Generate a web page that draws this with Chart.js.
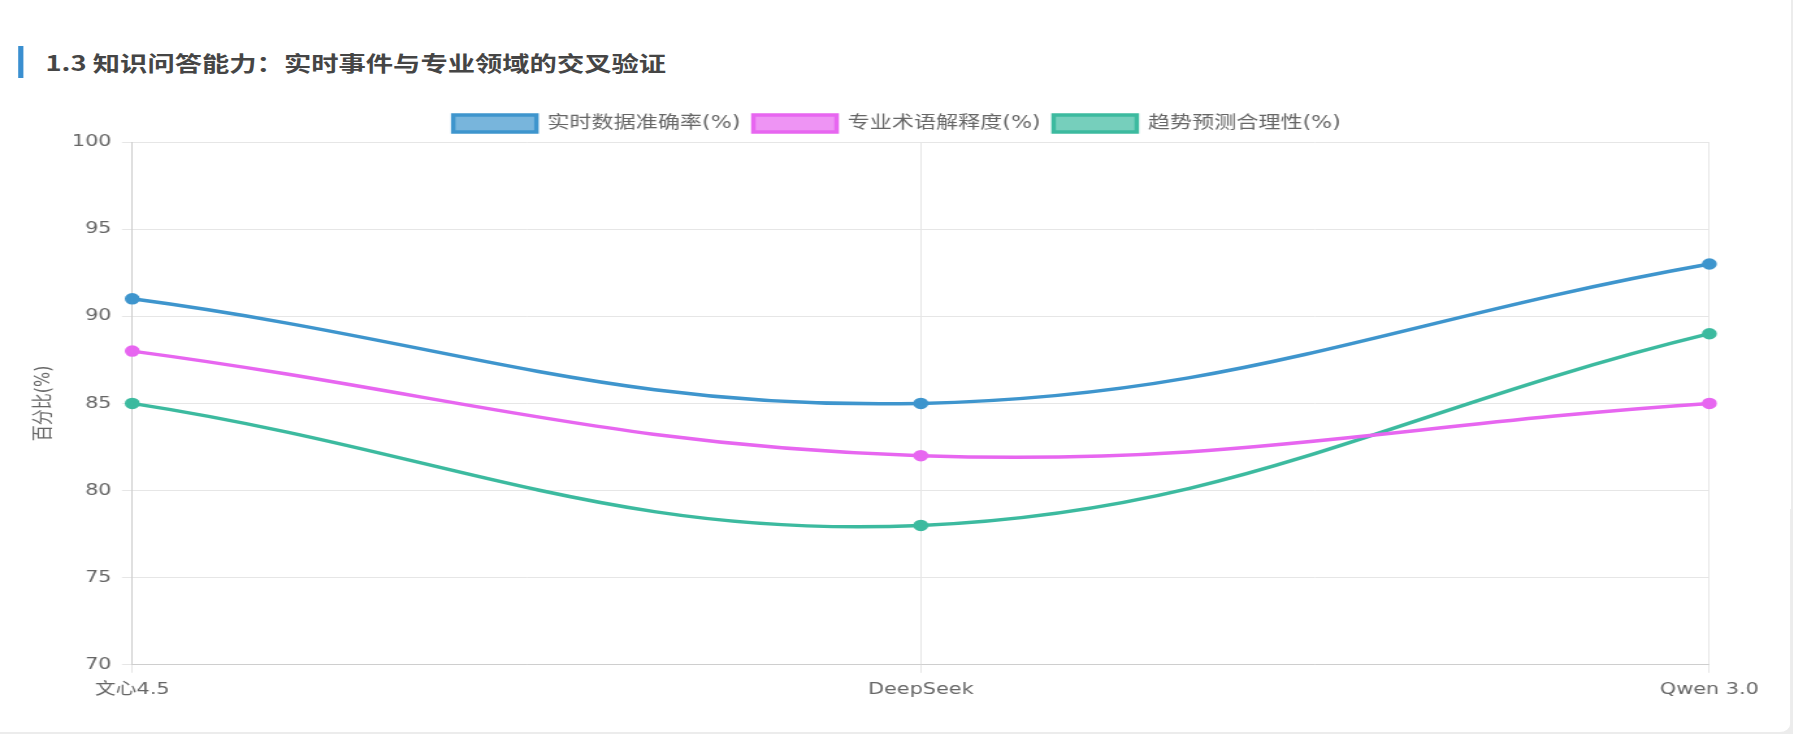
<!DOCTYPE html>
<html>
<head>
<meta charset="utf-8">
<script src="https://cdn.jsdelivr.net/npm/chart.js@4.4.0/dist/chart.umd.min.js"></script>
<style>
  html, body { margin: 0; padding: 0; background: #ececec; overflow: hidden; }
  /* a referência está esticada na horizontal */
  .card {
    position: relative; width: 1377px; height: 732px; background: #fff;
    border-radius: 0 0 8px 0; overflow: hidden;
    transform: scaleX(1.3); transform-origin: 0 0;
  }
  h3 {
    position: absolute; left: 14px; top: 46px; margin: 0;
    border-left: 4px solid #3a8fd0; padding-left: 17px;
    font-family: "Noto Sans CJK SC", sans-serif; font-weight: bold;
    font-size: 21px; line-height: 32px; color: #454545;
  }
  .wrap { position: absolute; left: 20px; top: 105px; width: 1340px; height: 601px; }
</style>
</head>
<body>
<div class="card">
  <h3>1.3 知识问答能力：实时事件与专业领域的交叉验证</h3>
  <div class="wrap"><canvas id="grafico"></canvas></div>
</div>
<script>
// Dados do gráfico
const modelos = ['文心4.5', 'DeepSeek', 'Qwen 3.0'];
const precisaoTempoReal = [91, 85, 93];
const termosProfissionais = [88, 82, 85];
const previsaoTendencia = [85, 78, 89];
const ticksY = [70, 75, 80, 85, 90, 95, 100];

const fonte = "'DejaVu Sans', 'Noto Sans CJK SC', sans-serif";
Chart.defaults.font.family = fonte;
Chart.defaults.color = '#666';

function serie(nome, dados, cor, corFundo) {
  return {
    label: nome,
    data: dados,
    borderColor: cor,
    backgroundColor: corFundo,
    pointBackgroundColor: cor,
    pointBorderColor: cor,
    pointRadius: 4,
    borderWidth: 3.5,
    tension: 0.4,
    fill: false
  };
}

const ctx = document.getElementById('grafico');
new Chart(ctx, {
  type: 'line',
  data: {
    labels: modelos,
    datasets: [
      serie('实时数据准确率(%)', precisaoTempoReal, '#3e95cd', 'rgba(62,149,205,0.7)'),
      serie('专业术语解释度(%)', termosProfissionais, '#e766f0', 'rgba(231,102,240,0.7)'),
      serie('趋势预测合理性(%)', previsaoTendencia, '#3cba9f', 'rgba(60,186,159,0.7)')
    ]
  },
  options: {
    responsive: true,
    maintainAspectRatio: false,
    animation: false,
    plugins: {
      legend: {
        labels: { boxWidth: 64, boxHeight: 17, font: { size: 17 }, padding: 10 }
      },
      tooltip: { enabled: false }
    },
    scales: {
      x: {
        grid: { color: '#e6e6e6' },
        ticks: { font: { size: 16 }, maxRotation: 0, padding: 7 }
      },
      y: {
        min: 70,
        max: 100,
        afterBuildTicks: axis => { axis.ticks = ticksY.map(v => ({ value: v })); },
        grid: { color: '#e6e6e6' },
        ticks: { font: { size: 16 }, padding: 8 },
        title: { display: true, text: '百分比(%)', font: { size: 16 }, padding: { top: 4, bottom: 4 } }
      }
    }
  }
});
</script>
</body>
</html>
